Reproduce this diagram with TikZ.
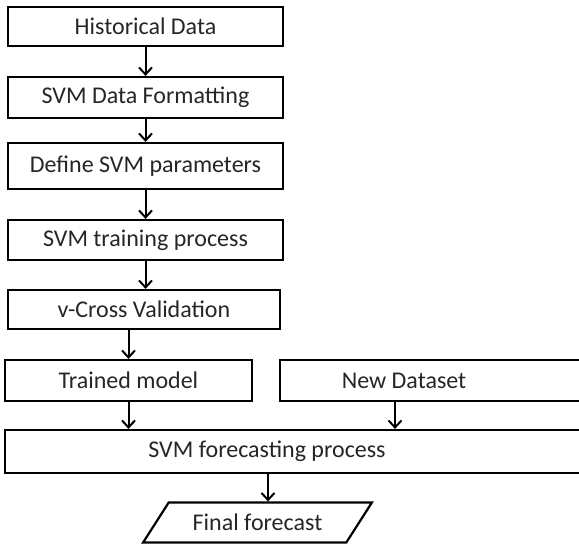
\documentclass[tikz,border=0pt]{standalone}
\usepackage{fontspec}
\setmainfont{Carlito}
\usetikzlibrary{arrows.meta,shapes.geometric}
\begin{document}
\begin{tikzpicture}[x=1pt,y=-1pt,
  txt/.style={font=\fontsize{24}{26}\selectfont, text=black!85},
  box/.style={draw, line width=2.2pt, rectangle, inner sep=0pt, txt},
  arr/.style={line width=2pt, -{Straight Barb[length=7pt,width=13pt,line width=2pt]}},
  para/.style={draw, line width=2.2pt, trapezium, trapezium left angle=42, trapezium right angle=138,
    trapezium stretches=true, inner sep=0pt, txt}]
\clip (0,0) rectangle (579,544);
\fill[white] (0,0) rectangle (579,544);
\node[box, minimum width=275pt, minimum height=39pt] (hd) at (145.5,26.5) {Historical Data};
\node[box, minimum width=275pt, minimum height=41pt] (fmt) at (145.5,97.5) {SVM Data Formatting};
\node[box, minimum width=275pt, minimum height=46pt] (par) at (145.5,166) {Define SVM parameters};
\node[box, minimum width=275pt, minimum height=40pt] (tr) at (145.5,240) {SVM training process};
\node[box, minimum width=272pt, minimum height=39pt] (cv) at (144,309.5) {v-Cross Validation};
\node[box, minimum width=247pt, minimum height=41pt] (tm) at (128.5,380.5) {Trained model};
\node[box, minimum width=320pt, minimum height=41pt,
  label={[txt, xshift=-36pt]center:New Dataset}] (nd) at (440,380.5) {};
\node[box, minimum width=595pt, minimum height=43pt,
  label={[txt, xshift=-35.5pt]center:SVM forecasting process}] (fc) at (302.5,451.5) {};
\node[para, minimum width=229pt, minimum height=40pt] (ff) at (257.5,522.5) {Final forecast};
\draw[arr] (hd.south -| tr.south) -- (fmt.north -| tr.south);
\draw[arr] (fmt.south -| tr.south) -- (par.north -| tr.south);
\draw[arr] (par.south -| tr.south) -- (tr.north);
\draw[arr] (tr.south) -- (cv.north -| tr.south);
\draw[arr] (cv.south -| tm.north) -- (tm.north);
\draw[arr] (tm) -- (tm.south |- fc.north);
\draw[arr] ([xshift=-45pt]nd.south) -- ([xshift=-45pt]nd.south |- fc.north);
\draw[arr] ([xshift=10.5pt]fc.south -| ff.north) -- ([xshift=10.5pt]ff.north);
\end{tikzpicture}
\end{document}
